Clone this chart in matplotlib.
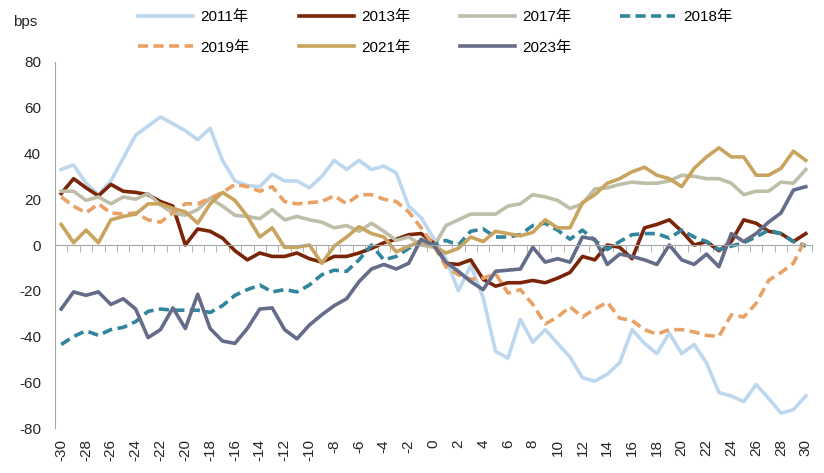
import matplotlib
matplotlib.use("Agg")
import matplotlib.pyplot as plt
import numpy as np

plt.rcParams["font.family"] = ["Liberation Sans", "Noto Sans CJK SC", "DejaVu Sans"]
plt.rcParams["axes.unicode_minus"] = False

# 数据
x = np.arange(-30, 31)
y2011 = [33, 35, 27, 22, 28, 38, 48, 52, 56, 53,
         50, 46, 51, 37, 28, 26, 25.5, 31, 28, 28,
         25, 30, 37, 33, 37, 33, 34.5, 31.5, 17, 12,
         3, -6, -20, -9, -23, -46.5, -49.5, -32.5, -42.5, -37,
         -43, -49, -58, -59.5, -56.5, -51.5, -37, -43, -47.5, -38.5,
         -47.5, -43.5, -51.5, -64.5, -66, -68.5, -61, -67, -73.5, -72, -66]
y2013 = [22.5, 29, 25, 21.5, 26.5, 23.5, 23, 22, 19, 17,
         0, 7, 6, 3, -2.5, -6.5, -3.5, -5, -5, -3.5,
         -6, -7.5, -5, -5, -3.5, -1.5, 1, 2.5, 4.5, 5,
         1, -8, -8.5, -6.5, -15, -18, -16.5, -16.5, -15.5, -16.5,
         -14.5, -12, -5, -6.5, 0, -1, -6, 7.5, 9, 11,
         6, 0, 1.5, -2.5, 1.5, 11, 9.5, 6, 5, 1.5, 5]
y2017 = [23.5, 23.5, 19.5, 21, 18, 21, 20, 22.5, 17.5, 14,
         13, 15.5, 20.5, 17, 13, 12.5, 11.5, 15.5, 11, 12.5,
         11, 10, 7.5, 8.5, 6, 9.5, 6, 2, 3.5, 0,
         -1, 8.5, 11, 13.5, 13.5, 13.5, 17, 18, 22, 21,
         19.5, 16, 18, 24.5, 25, 26.5, 27.5, 27, 27, 28,
         30.5, 30, 29, 29, 27, 22, 23.5, 23.5, 27.5, 27, 33]
y2018 = [-43.5, -40, -37.5, -39.5, -37, -36, -33.5, -29, -28, -28.5,
         -28.5, -28.5, -29.5, -26.5, -22, -19.5, -17.5, -20.5, -19.5, -20.5,
         -17.5, -13, -11, -11.5, -6.5, 0, -6.5, -5, -1.5, 2,
         0, 2, 0, 6, 7, 3.5, 3.5, 4.5, 8.5, 9.5,
         6.5, 2.5, 6.5, 2, -2, 1.5, 4.5, 5, 5, 3,
         6.5, 3.5, 1.5, -2, -0.5, 1, 3.5, 6.5, 5, 1.5, -0.5]
y2019 = [21, 17, 14, 18, 14, 13.5, 14, 11, 10, 14,
         18, 18, 20.5, 23, 26.5, 25.5, 23.5, 25.5, 19, 18,
         18.5, 19, 21.5, 18, 22, 22, 20, 19, 14.5, 7.5,
         0, -9.5, -13, -15, -14.5, -12.5, -21, -19.5, -26, -34.5,
         -31.5, -27, -31.5, -28, -25, -32, -33, -37, -39, -37,
         -37, -38, -39.5, -40, -30.5, -31.5, -25.5, -15.5, -12, -8, 3]
y2021 = [9, 1, 6.5, 1, 11, 12.5, 13.5, 18, 18, 16,
         14.5, 9.5, 18, 23, 19.5, 12.5, 3.5, 7.5, -1, -1,
         0, -8, -0.5, 3.5, 8, 5, 3.5, -3, -0.5, 1.5,
         -0.5, -3.5, -1.5, 3.5, 1.5, 6, 5, 4, 5.5, 11,
         7.5, 7.5, 18.5, 22, 27, 29, 32, 34, 30.5, 29,
         25.5, 33.5, 38.5, 42.5, 38.5, 38.5, 30.5, 30.5, 33.5, 41, 37]
y2023 = [-28, -20.5, -22, -20.5, -26, -23.5, -28, -40.5, -37, -27.5,
         -36.5, -21.5, -36.5, -42, -43, -36.5, -28, -27.5, -37, -41,
         -35, -30.5, -26.5, -23.5, -16, -10.5, -8.5, -10.5, -8, 2.5,
         0, -7.5, -11.5, -16, -19.5, -11.5, -11, -10.5, -1, -7.5,
         -6, -7.5, 3.5, 2.5, -8.5, -4, -5, -6.5, -8.5, 0,
         -6.5, -8.5, -4, -9.5, 5, 1.5, 5, 10, 14, 24, 25.5]

fig = plt.figure(figsize=(8.24, 4.73), dpi=100)
ax = fig.add_axes([55 / 824, 1 - 428 / 473, 757 / 824, 366 / 473])

lw = 2.6
l11, = ax.plot(x, y2011, color="#BDD7EE", lw=lw, label="2011年")
l13, = ax.plot(x, y2013, color="#7B2508", lw=lw, label="2013年")
l17, = ax.plot(x, y2017, color="#BFBEA9", lw=lw, label="2017年")
l18, = ax.plot(x, y2018, color="#31859C", lw=lw, ls=(0, (2.8, 1.5)), label="2018年")
l19, = ax.plot(x, y2019, color="#E9A165", lw=lw, ls=(0, (2.8, 1.5)), label="2019年")
l21, = ax.plot(x, y2021, color="#C8A45E", lw=lw, label="2021年")
l23, = ax.plot(x, y2023, color="#646C8A", lw=lw, label="2023年")

ax.set_xlim(-30.5, 30.5)
ax.set_ylim(-80, 80)
ax.set_yticks(np.arange(-80, 81, 20))
ax.tick_params(axis="y", length=0, pad=10, labelsize=11, labelcolor="#262626")

for s in ["top", "right"]:
    ax.spines[s].set_visible(False)
ax.spines["left"].set_color("#A6A6A6")
ax.spines["bottom"].set_position(("data", 0))
ax.spines["bottom"].set_color("#A6A6A6")
ax.set_xticks([])
ax.set_xticks(np.arange(-30.5, 31, 1), minor=True)
ax.tick_params(axis="x", which="minor", length=5, color="#A6A6A6", labelbottom=False)

# 横轴标签放在底部
sec = ax.secondary_xaxis(0.0)
sec.set_xticks(np.arange(-30, 31, 2))
sec.tick_params(length=0, pad=8, labelsize=11, labelcolor="#262626", labelrotation=90)
sec.spines["bottom"].set_visible(False)

fig.text(13 / 824, 1 - 22 / 473, "bps", fontsize=11, color="#262626", va="center")

handles = [l11, l19, l13, l21, l17, l23, l18]
fig.legend(handles=handles, labels=[h.get_label() for h in handles], ncol=4,
           loc="upper left", bbox_to_anchor=(138 / 824, 1 - 10 / 473),
           frameon=False, fontsize=11, handlelength=3.6, handletextpad=0.5,
           columnspacing=3.2, labelspacing=1.1, borderpad=0, borderaxespad=0)

plt.savefig("out.png", dpi=100)
